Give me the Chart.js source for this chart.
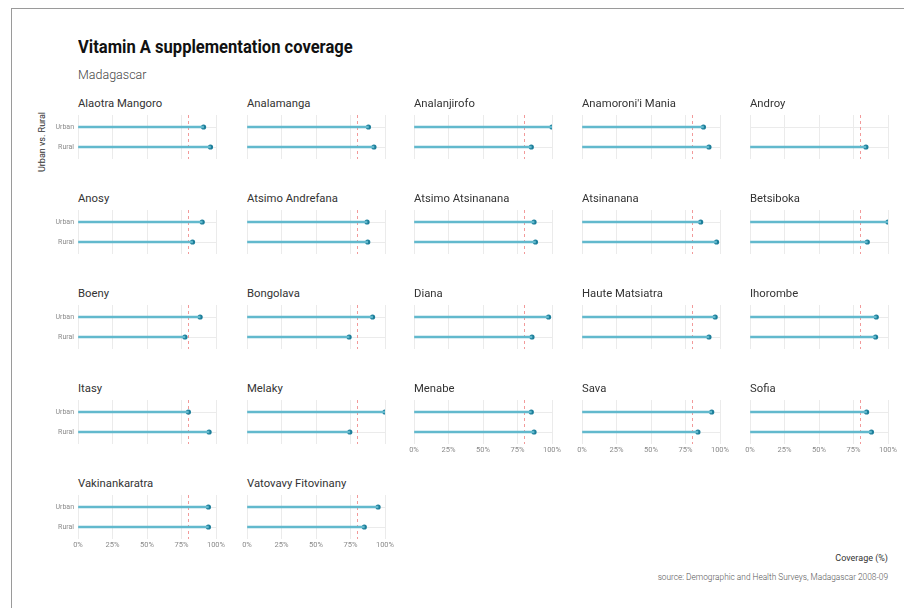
<!DOCTYPE html>
<html>
<head>
<meta charset="utf-8">
<script src="https://cdn.jsdelivr.net/npm/chart.js@4"></script>
<style>
  body { margin: 0; background: #fff; font-family: Roboto, sans-serif; }
  #page { position: relative; width: 904px; height: 608px; overflow: hidden; background: #fff; }
  #frame { position: absolute; left: 11px; top: 8px; width: 920px; height: 620px;
           border-left: 1.5px solid #9a9a9a; border-top: 1.5px solid #9a9a9a; }
  #title { position: absolute; left: 78px; top: 36px; font-size: 18px; line-height: 21px;
           font-weight: 700; color: #111; white-space: nowrap;
           transform: scaleX(0.92); transform-origin: left center; }
  #subtitle { position: absolute; left: 78px; top: 67px; font-size: 12.5px; line-height: 16px;
              font-weight: 300; color: #444; }
  #ytitle { position: absolute; left: 2px; top: 136px; width: 80px; text-align: center;
            font-size: 9px; line-height: 12px; color: #333;
            transform: rotate(-90deg); white-space: nowrap; }
  #xtitle { position: absolute; right: 16px; top: 552px; font-size: 9px; line-height: 12px; color: #333; }
  #source { position: absolute; right: 16px; top: 571px; font-size: 8.3px; line-height: 12px;
            font-weight: 300; color: #555; white-space: nowrap; }
  .facet { position: absolute; font-size: 11.3px; line-height: 14px; color: #333; white-space: nowrap; }
  canvas { position: absolute; }
</style>
</head>
<body>
<div id="page">
  <div id="frame"></div>
  <div id="title">Vitamin A supplementation coverage</div>
  <div id="subtitle">Madagascar</div>
  <div id="ytitle">Urban vs. Rural</div>
  <div id="xtitle">Coverage (%)</div>
  <div id="source">source: Demographic and Health Surveys, Madagascar 2008-09</div>
</div>
<script>
var regions = ['Alaotra Mangoro', 'Analamanga', 'Analanjirofo', "Anamoroni'i Mania", 'Androy',
  'Anosy', 'Atsimo Andrefana', 'Atsimo Atsinanana', 'Atsinanana', 'Betsiboka',
  'Boeny', 'Bongolava', 'Diana', 'Haute Matsiatra', 'Ihorombe',
  'Itasy', 'Melaky', 'Menabe', 'Sava', 'Sofia',
  'Vakinankaratra', 'Vatovavy Fitovinany'];
var urban = [91, 88, 100, 88, null,
  90, 87, 87, 86, 100,
  88.5, 91, 97.5, 96.5, 91.5,
  80, 100, 85, 94, 84.5,
  94.5, 95];
var rural = [96, 92, 85, 92, 84,
  83, 87.5, 88, 97.5, 85,
  77.5, 74, 85.5, 92, 91,
  95, 74.5, 87, 84, 88,
  94.5, 85];
var groups = ['Urban', 'Rural'];
var xTicks = [0, 25, 50, 75, 100];
var target = 80;

// panel grid: left edge of each plot area and y of the Urban row
var colLeft = [78, 247, 414, 582, 750];
var rowTop = [127, 222, 317, 412, 507];
var NCOL = 5;

var targetLine = {
  id: 'targetLine',
  beforeDatasetsDraw: function(chart) {
    var ctx = chart.ctx, a = chart.chartArea;
    var x = Math.round(chart.scales.x.getPixelForValue(target)) + 0.5;
    ctx.save();
    ctx.strokeStyle = '#f29a9a';
    ctx.lineWidth = 1;
    ctx.setLineDash([3, 3]);
    ctx.beginPath();
    ctx.moveTo(x, a.top);
    ctx.lineTo(x, a.bottom);
    ctx.stroke();
    ctx.restore();
  }
};

var page = document.getElementById('page');

regions.forEach(function(name, i) {
  var col = i % NCOL, row = Math.floor(i / NCOL);
  var showY = col === 0;
  var showX = i + NCOL >= regions.length;

  var lab = document.createElement('div');
  lab.className = 'facet';
  lab.textContent = name;
  lab.style.left = colLeft[col] + 'px';
  lab.style.top = (rowTop[row] - 30) + 'px';
  page.appendChild(lab);

  var cv = document.createElement('canvas');
  cv.width = 188;
  cv.height = 46 + (showX ? 12 : 0);
  cv.style.left = (colLeft[col] - 40) + 'px';
  cv.style.top = (rowTop[row] - 14) + 'px';
  page.appendChild(cv);

  var pts = [];
  [urban[i], rural[i]].forEach(function(v, k) {
    if (v != null) pts.push({ x: v, y: k });
  });

  new Chart(cv.getContext('2d'), {
    type: 'bar',
    data: {
      datasets: [{
        type: 'bar',
        data: pts,
        backgroundColor: '#62b9cd',
        barThickness: 2,
        clip: 0
      }, {
        type: 'scatter',
        data: pts,
        backgroundColor: '#1c7e9a',
        borderWidth: 0,
        pointRadius: 2.6,
        clip: 0
      }]
    },
    plugins: [targetLine],
    options: {
      indexAxis: 'y',
      responsive: false,
      animation: false,
      devicePixelRatio: 1,
      layout: { autoPadding: false, padding: { top: 2, right: 10, bottom: 0, left: 0 } },
      plugins: { legend: { display: false }, tooltip: { enabled: false } },
      scales: {
        x: {
          type: 'linear', min: 0, max: 100, offset: false,
          afterBuildTicks: function(s) { s.ticks = xTicks.map(function(v) { return { value: v }; }); },
          ticks: {
            display: showX, padding: 2, maxRotation: 0, color: '#8a8a8a',
            font: { family: 'Roboto', size: 7.5 },
            callback: function(v) { return v + '%'; }
          },
          grid: { color: '#ebebeb', drawTicks: false, offset: false },
          border: { display: false },
          afterFit: function(s) { s.height = showX ? 12 : 0; s.paddingLeft = 0; s.paddingRight = 0; }
        },
        y: {
          type: 'linear', reverse: true, min: -0.6, max: 1.6, offset: false,
          afterBuildTicks: function(s) { s.ticks = groups.map(function(g, k) { return { value: k }; }); },
          ticks: {
            display: showY, padding: 4, color: '#8a8a8a',
            font: { family: 'Roboto', size: 7 },
            callback: function(v) { return groups[v]; }
          },
          grid: { color: '#ebebeb', drawTicks: false, offset: false },
          border: { display: false },
          afterFit: function(s) { s.width = 40; s.paddingTop = 0; s.paddingBottom = 0; }
        }
      }
    }
  });
});
</script>
</body>
</html>
